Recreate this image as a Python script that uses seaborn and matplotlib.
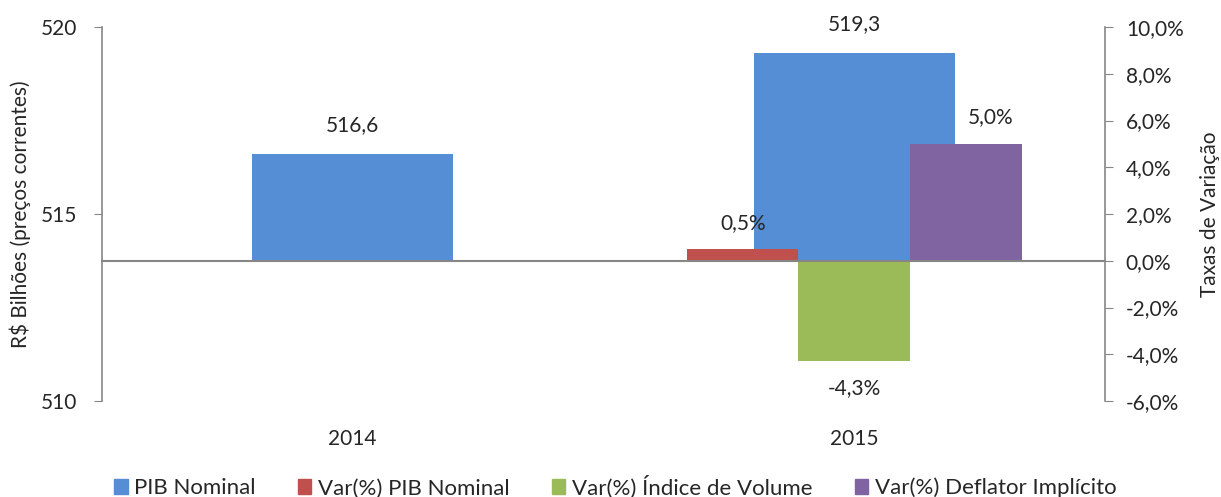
import pandas as pd
import numpy as np
import matplotlib
matplotlib.use('Agg')
import matplotlib.pyplot as plt
import seaborn as sns
from matplotlib.patches import Patch

# dados
anos = ['2014', '2015']
pib_nominal = [516.6, 519.3]
series_var = ['Var(%) PIB Nominal', 'Var(%) Índice de Volume', 'Var(%) Deflator Implícito']
var_2015 = [0.5, -4.3, 5.0]

cores = {'PIB Nominal': '#558ED5',
         'Var(%) PIB Nominal': '#C0504D',
         'Var(%) Índice de Volume': '#9BBB59',
         'Var(%) Deflator Implícito': '#8064A2'}

sns.set_style('white')
plt.rcParams['font.family'] = ['Lato', 'DejaVu Sans']
fs = 15
cinza = '#868686'

df_pib = pd.DataFrame({'ano': anos, 'valor': pib_nominal})
df_var = pd.DataFrame({'ano': ['2015'] * 3, 'serie': series_var, 'valor': var_2015})

fig = plt.figure(figsize=(12.21, 4.97), dpi=100)
ax = fig.add_axes([0.0835, 0.193, 0.8215, 0.7527])

y1min, y1max = 510, 520
y2min, y2max = -6, 10
# valor do eixo principal que coincide com 0% do secundario
base = y1min + (0 - y2min) / (y2max - y2min) * (y1max - y1min)

sns.barplot(data=df_pib, x='ano', y='valor', order=anos, color=cores['PIB Nominal'],
            width=0.4, saturation=1, ax=ax, errorbar=None)
for p, v in zip(ax.patches, pib_nominal):
    p.set_y(base)
    p.set_height(v - base)
    p.set_edgecolor('none')
    ax.text(p.get_x() + p.get_width() / 2, v + 0.5, f'{v:.1f}'.replace('.', ','),
            ha='center', va='bottom', fontsize=fs)

ax.set_ylim(y1min, y1max)
ax.set_xlim(-0.5, 1.5)
ax.set_yticks([510, 515, 520])
ax.set_ylabel('R$ Bilhões (preços correntes)', fontsize=fs, labelpad=7)
ax.set_xlabel('')
ax.set_xticks([0, 1])
ax.set_xticklabels(anos)
ax.set_xticks([0.5], minor=True)
ax.tick_params(axis='y', labelsize=fs, length=6, color=cinza, direction='out', left=True, pad=12)
ax.tick_params(axis='x', which='both', labelsize=fs, length=0, pad=20)
for s in ['top', 'right', 'bottom']:
    ax.spines[s].set_visible(False)
ax.spines['left'].set_color(cinza)
ax.spines['left'].set_linewidth(1.2)

ax2 = ax.twinx()
sns.barplot(data=df_var, x='ano', y='valor', hue='serie', order=anos, hue_order=series_var,
            palette=cores, width=0.667, saturation=1, ax=ax2, errorbar=None, legend=False)
for p in ax2.patches:
    p.set_edgecolor('none')
    h = p.get_height()
    if np.isnan(h) or p.get_width() == 0:
        continue
    cx = p.get_x() + p.get_width() / 2
    txt = f'{h:.1f}%'.replace('.', ',')
    if h >= 2:
        # rotulo do deflator ligeiramente deslocado para a direita
        ax2.annotate(txt, (cx, h + 0.7), xytext=(18, 0), textcoords='offset points',
                     ha='center', va='bottom', fontsize=fs)
    elif h >= 0:
        ax2.text(cx, h + 0.7, txt, ha='center', va='bottom', fontsize=fs)
    else:
        ax2.text(cx, h - 0.7, txt, ha='center', va='top', fontsize=fs)

ax2.set_ylim(y2min, y2max)
ax2.set_xlim(-0.5, 1.5)
ax2.set_yticks(np.arange(-6, 11, 2))
ax2.set_yticklabels([f'{t:.1f}%'.replace('.', ',') for t in np.arange(-6, 11, 2)])
ax2.set_ylabel('Taxas de Variação', fontsize=fs, labelpad=12)
ax2.set_xlabel('')
ax2.tick_params(axis='y', labelsize=fs, length=6, color=cinza, direction='out', right=True, pad=9)
# linha do eixo das categorias no 0%
ax2.spines['bottom'].set_position(('data', 0))
ax2.spines['bottom'].set_color(cinza)
ax2.spines['bottom'].set_linewidth(1.5)
ax2.tick_params(axis='x', which='major', length=0, labelbottom=False)
ax2.tick_params(axis='x', which='minor', length=6, width=1, color=cinza, direction='out', bottom=True)
for s in ['top', 'left']:
    ax2.spines[s].set_visible(False)
ax2.spines['right'].set_color(cinza)
ax2.spines['right'].set_linewidth(1.2)

handles = [Patch(color=cores[k]) for k in cores]
fig.legend(handles, list(cores.keys()), loc='lower center', bbox_to_anchor=(0.504, -0.043),
           ncol=4, frameon=False, fontsize=16, handlelength=0.6, handleheight=0.6,
           handletextpad=0.3, columnspacing=1.9)

fig.savefig('out.png', dpi=100)
